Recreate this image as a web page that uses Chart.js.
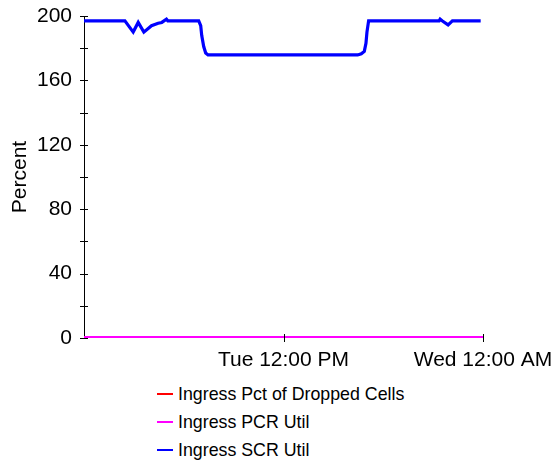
<!DOCTYPE html>
<html>
<head>
<meta charset="utf-8">
<script src="https://cdn.jsdelivr.net/npm/chart.js@4"></script>
<style>
  body { margin: 0; background: #fff; font-family: "Liberation Sans", Arial, sans-serif; }
  #wrap { position: relative; width: 557px; height: 464px; }
  #legend { position: absolute; left: 157px; top: 380px; font-size: 17.8px; color: #000; }
  #legend div { height: 28px; line-height: 28px; white-space: nowrap; }
  #legend span.sw { display: inline-block; width: 16px; height: 2px; vertical-align: middle; margin-right: 5px; position: relative; top: -1px; }
</style>
</head>
<body>
<div id="wrap">
  <canvas id="chart" width="557" height="376"></canvas>
  <div id="legend"></div>
</div>
<script>
// hours since Tue 12:00 AM
const xTickValues = [12, 24];
const xTickLabels = ["Tue 12:00 PM", "Wed 12:00 AM"];
const yTitle = "Percent";

const droppedHours = [0, 24];
const droppedValues = [0, 0];

const pcrHours = [0, 24];
const pcrValues = [0, 0];

const scrHours = [0, 2.46, 2.96, 3.26, 3.6, 4.06, 4.46, 4.68, 4.96, 5.04, 6.9, 7.02, 7.08, 7.2, 7.32, 7.46,
  16.46, 16.68, 16.86, 16.96, 17.02, 17.12, 21.36, 21.42, 21.54, 21.9, 22.16, 23.86];
const scrValues = [197, 197, 190, 196, 190, 194, 195.5, 196, 198, 197, 197, 194, 188, 181, 177, 175.8,
  175.8, 176.5, 178, 183, 190, 197, 197, 198, 197, 194.5, 197, 197];

const seriesNames = ["Ingress Pct of Dropped Cells", "Ingress PCR Util", "Ingress SCR Util"];
const seriesColors = ["#ff0000", "#ff00ff", "#0000ff"];

function toPoints(xs, ys) {
  return xs.map((x, i) => ({ x: x, y: ys[i] }));
}

// tick marks that cross the axis line, like the original
const crossTicks = {
  id: "crossTicks",
  afterDraw(chart) {
    const ctx = chart.ctx;
    const ys = chart.scales.y;
    const xs = chart.scales.x;
    ctx.save();
    ctx.strokeStyle = "#000";
    ctx.lineWidth = 1;
    ys.ticks.forEach(t => {
      const py = Math.round(ys.getPixelForValue(t.value)) + 0.5;
      ctx.beginPath();
      ctx.moveTo(xs.left - 4, py);
      ctx.lineTo(xs.left + 4, py);
      ctx.stroke();
    });
    xTickValues.forEach(v => {
      const px = Math.round(xs.getPixelForValue(v)) + 0.5;
      ctx.beginPath();
      ctx.moveTo(px, ys.bottom - 4);
      ctx.lineTo(px, ys.bottom + 4);
      ctx.stroke();
    });
    ctx.restore();
  }
};

const datasets = [
  { label: seriesNames[0], data: toPoints(droppedHours, droppedValues), borderColor: seriesColors[0], borderWidth: 3, order: 2 },
  { label: seriesNames[1], data: toPoints(pcrHours, pcrValues), borderColor: seriesColors[1], borderWidth: 4, order: 1 },
  { label: seriesNames[2], data: toPoints(scrHours, scrValues), borderColor: seriesColors[2], borderWidth: 3.2, order: 0 }
];

new Chart(document.getElementById("chart"), {
  type: "line",
  data: { datasets },
  options: {
    responsive: false,
    animation: false,
    layout: { padding: { top: 16, right: 74, left: 0, bottom: 0 } },
    elements: { point: { radius: 0 }, line: { tension: 0 } },
    plugins: { legend: { display: false }, tooltip: { enabled: false } },
    scales: {
      x: {
        type: "linear",
        min: 0,
        max: 24,
        afterBuildTicks: s => { s.ticks = xTickValues.map(v => ({ value: v })); },
        afterFit: s => { s.height = 38; s.paddingLeft = 0; s.paddingRight = 0; },
        grid: { display: false, drawTicks: false },
        border: { display: false },
        ticks: {
          color: "#000",
          font: { family: "Liberation Sans", size: 21 },
          padding: 10,
          maxRotation: 0,
          callback: v => xTickLabels[xTickValues.indexOf(v)]
        }
      },
      y: {
        min: 0,
        max: 200,
        afterFit: s => { s.width = 84; s.paddingTop = 0; s.paddingBottom = 0; },
        grid: { display: false, drawTicks: false },
        border: { display: true, color: "#000", width: 1 },
        ticks: {
          stepSize: 20,
          color: "#000",
          font: { family: "Liberation Sans", size: 21 },
          padding: 12,
          callback: v => (v % 40 === 0 ? v : "")
        },
        title: {
          display: true,
          text: yTitle,
          color: "#000",
          font: { family: "Liberation Sans", size: 21 },
          padding: { top: 8, bottom: 0 }
        }
      }
    }
  },
  plugins: [crossTicks]
});

const legendEl = document.getElementById("legend");
seriesNames.forEach((name, i) => {
  const row = document.createElement("div");
  const sw = document.createElement("span");
  sw.className = "sw";
  sw.style.background = seriesColors[i];
  row.appendChild(sw);
  row.appendChild(document.createTextNode(name));
  legendEl.appendChild(row);
});
</script>
</body>
</html>
